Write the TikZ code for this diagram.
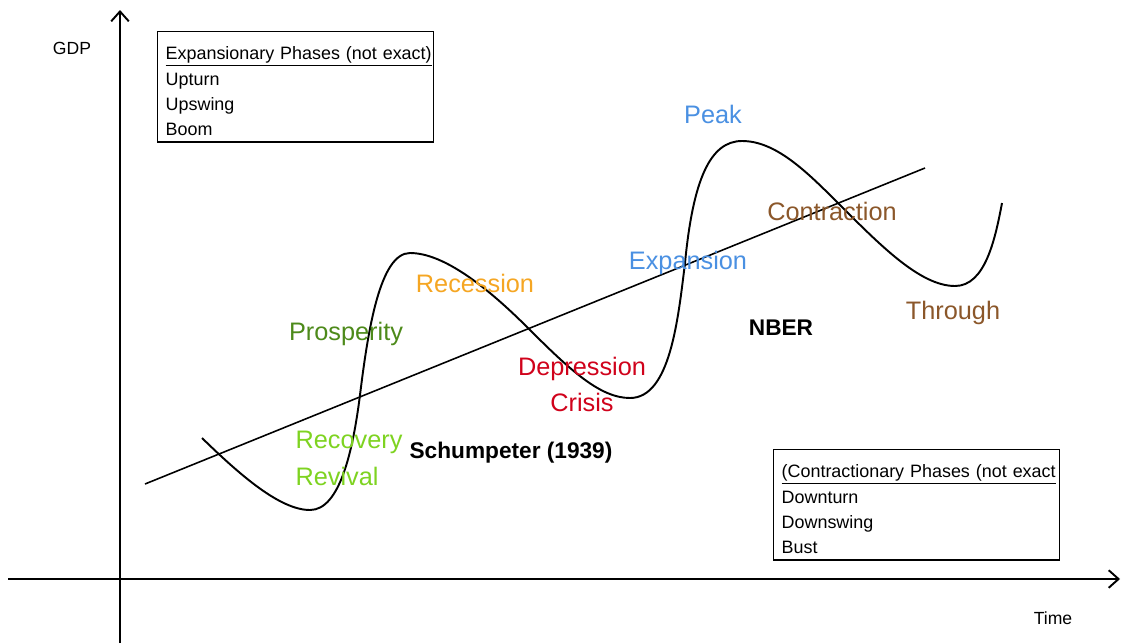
\documentclass[tikz,border=0pt]{standalone}
\usepackage{fontspec}
\setmainfont{Liberation Sans}
\usetikzlibrary{positioning,arrows.meta}
\definecolor{darkgreen}{HTML}{4D8A1A}
\definecolor{lightgreen}{HTML}{7ED321}
\definecolor{recorange}{HTML}{F5A623}
\definecolor{deepred}{HTML}{D0021B}
\definecolor{nberblue}{HTML}{4A90E2}
\definecolor{contbrown}{HTML}{8B572A}
\begin{document}
\begin{tikzpicture}[x=0.02cm,y=-0.02cm,
    axis/.style={line width=1.1pt,-{Straight Barb[length=5.6pt,width=10pt]}},
    phase/.style={font=\fontsize{14.4}{17}\selectfont},
    school/.style={font=\fontsize{12.9}{15}\selectfont\bfseries},
    axlabel/.style={font=\fontsize{10}{12}\selectfont},
    listbox/.style={draw,line width=0.8pt,anchor=north west,align=left,inner xsep=4pt,
        font=\fontsize{10.2}{14.5}\selectfont}]
    \useasboundingbox (0,0) rectangle (1122,643);
        % axes
        \coordinate (ybot) at (120,643);
        \coordinate (ytop) at (120,10);
        \coordinate (xleft) at (8,579);
        \coordinate (xright) at (1120,579);
        \draw[axis] (ybot)--(ytop);
        \draw[axis] (xleft)--(xright);
        \node[axlabel] (gdp) at (72,48) {GDP};
        \node[axlabel] (time) at (1053,618) {Time};
        % trend
        \coordinate (tstart) at (145,484);
        \coordinate (tend) at (925,168);
        \draw[line width=0.9pt] (tstart)--(tend);
        % cycle
        \draw[line width=1.1pt] (202,438) .. controls (240,475) and (280,510) .. (310,510)
            .. controls (340,510) and (353,450) .. (360,395)
            .. controls (368,330) and (380,253) .. (410,253)
            .. controls (445,253) and (490,290) .. (528,328)
            .. controls (570,370) and (600,398) .. (630,398)
            .. controls (670,398) and (678,320) .. (685,263)
            .. controls (693,180) and (710,141) .. (742,141)
            .. controls (775,141) and (805,170) .. (837,202)
            .. controls (880,245) and (920,286) .. (955,286)
            .. controls (985,286) and (995,240) .. (1002,203);
        % boxes
        \node[listbox,minimum width=276*0.02cm,minimum height=109*0.02cm,text width=260*0.02cm] (expbox) at (157,31)
            {\rule{0pt}{12.5pt}\underline{Expansionary Phases (not exact)}\\Upturn\\Upswing\\Boom};
        \node[listbox,minimum width=286*0.02cm,minimum height=110*0.02cm,text width=270*0.02cm] (conbox) at (773,449)
            {\rule{0pt}{12.5pt}\underline{(Contractionary Phases (not exact}\\Downturn\\Downswing\\Bust};
        % phase labels
        \node[phase,text=darkgreen] (prosperity) at (346,334) {Prosperity};
        \node[phase,text=recorange] (recession) at (475,283) {Recession};
        \node[phase,text=deepred] (depression) at (582,369) {Depression};
        \node[phase,text=deepred] (crisis) at (582,402) {Crisis};
        \node[phase,text=lightgreen] (recovery) at (349,442) {Recovery};
        \node[phase,text=lightgreen] (revival) at (337,476) {Revival};
        \node[phase,text=nberblue] (peak) at (713,114) {Peak};
        \node[phase,text=nberblue] (expansion) at (688,263) {Expansion};
        \node[phase,text=contbrown] (contraction) at (832,211) {Contraction};
        \node[phase,text=contbrown] (through) at (953,313) {Through};
        \node[school] (schumpeter) at (511,453) {Schumpeter (1939)};
        \node[school] (nber) at (781,328) {NBER};
    \end{tikzpicture}
\end{document}
